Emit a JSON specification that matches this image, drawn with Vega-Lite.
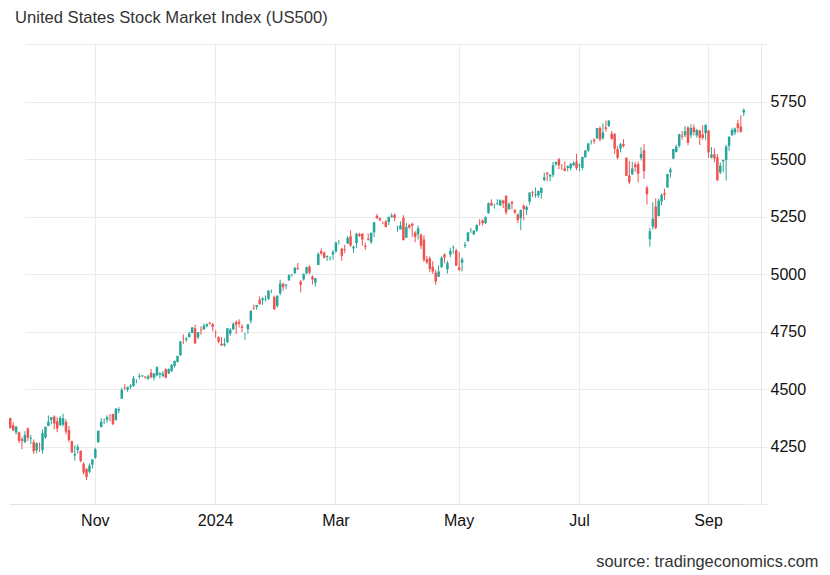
{
  "$schema": "https://vega.github.io/schema/vega-lite/v6.json",
  "autosize": "none",
  "width": 752,
  "height": 460,
  "padding": {"left": 9, "top": 44, "right": 69, "bottom": 71},
  "background": "white",
  "title": {"text": "United States Stock Market Index (US500)", "anchor": "start", "frame": "group", "dx": 6, "offset": 4, "baseline": "alphabetic", "font": "Liberation Sans", "fontSize": 16.6, "fontWeight": "normal", "color": "#333333"},
  "config": {"view": {"stroke": null}},
  "data": {"values": [
{"d":"2023-09-21","o":4374,"h":4375,"l":4329,"c":4330},
{"d":"2023-09-22","o":4342,"h":4357,"l":4316,"c":4320},
{"d":"2023-09-25","o":4311,"h":4338,"l":4302,"c":4337},
{"d":"2023-09-26","o":4312,"h":4314,"l":4265,"c":4274},
{"d":"2023-09-27","o":4282,"h":4292,"l":4238,"c":4275},
{"d":"2023-09-28","o":4269,"h":4317,"l":4265,"c":4300},
{"d":"2023-09-29","o":4328,"h":4333,"l":4274,"c":4288},
{"d":"2023-10-02","o":4284,"h":4300,"l":4260,"c":4288},
{"d":"2023-10-03","o":4269,"h":4281,"l":4217,"c":4229},
{"d":"2023-10-04","o":4233,"h":4268,"l":4220,"c":4264},
{"d":"2023-10-05","o":4259,"h":4268,"l":4226,"c":4258},
{"d":"2023-10-06","o":4234,"h":4324,"l":4219,"c":4308},
{"d":"2023-10-09","o":4289,"h":4336,"l":4284,"c":4336},
{"d":"2023-10-10","o":4339,"h":4385,"l":4339,"c":4358},
{"d":"2023-10-11","o":4366,"h":4378,"l":4346,"c":4377},
{"d":"2023-10-12","o":4380,"h":4386,"l":4325,"c":4350},
{"d":"2023-10-13","o":4360,"h":4377,"l":4312,"c":4328},
{"d":"2023-10-16","o":4342,"h":4383,"l":4342,"c":4374},
{"d":"2023-10-17","o":4345,"h":4393,"l":4337,"c":4373},
{"d":"2023-10-18","o":4357,"h":4368,"l":4303,"c":4315},
{"d":"2023-10-19","o":4321,"h":4339,"l":4269,"c":4278},
{"d":"2023-10-20","o":4273,"h":4276,"l":4223,"c":4224},
{"d":"2023-10-23","o":4211,"h":4255,"l":4189,"c":4217},
{"d":"2023-10-24","o":4235,"h":4259,"l":4219,"c":4248},
{"d":"2023-10-25","o":4232,"h":4232,"l":4181,"c":4187},
{"d":"2023-10-26","o":4175,"h":4183,"l":4128,"c":4137},
{"d":"2023-10-27","o":4152,"h":4157,"l":4104,"c":4117},
{"d":"2023-10-30","o":4140,"h":4177,"l":4133,"c":4167},
{"d":"2023-10-31","o":4171,"h":4194,"l":4154,"c":4194},
{"d":"2023-11-01","o":4201,"h":4245,"l":4197,"c":4238},
{"d":"2023-11-02","o":4268,"h":4320,"l":4268,"c":4318},
{"d":"2023-11-03","o":4334,"h":4374,"l":4334,"c":4358},
{"d":"2023-11-06","o":4365,"h":4372,"l":4348,"c":4366},
{"d":"2023-11-07","o":4366,"h":4386,"l":4353,"c":4378},
{"d":"2023-11-08","o":4384,"h":4391,"l":4360,"c":4383},
{"d":"2023-11-09","o":4391,"h":4393,"l":4343,"c":4347},
{"d":"2023-11-10","o":4365,"h":4416,"l":4362,"c":4415},
{"d":"2023-11-13","o":4406,"h":4421,"l":4394,"c":4412},
{"d":"2023-11-14","o":4458,"h":4505,"l":4458,"c":4496},
{"d":"2023-11-15","o":4505,"h":4521,"l":4495,"c":4503},
{"d":"2023-11-16","o":4497,"h":4511,"l":4488,"c":4508},
{"d":"2023-11-17","o":4509,"h":4521,"l":4500,"c":4514},
{"d":"2023-11-20","o":4512,"h":4557,"l":4511,"c":4547},
{"d":"2023-11-21","o":4538,"h":4542,"l":4525,"c":4538},
{"d":"2023-11-22","o":4553,"h":4568,"l":4545,"c":4557},
{"d":"2023-11-24","o":4555,"h":4560,"l":4552,"c":4559},
{"d":"2023-11-27","o":4554,"h":4555,"l":4545,"c":4550},
{"d":"2023-11-28","o":4545,"h":4562,"l":4540,"c":4555},
{"d":"2023-11-29","o":4571,"h":4587,"l":4547,"c":4551},
{"d":"2023-11-30","o":4549,"h":4569,"l":4537,"c":4568},
{"d":"2023-12-01","o":4559,"h":4599,"l":4554,"c":4595},
{"d":"2023-12-04","o":4564,"h":4572,"l":4546,"c":4570},
{"d":"2023-12-05","o":4557,"h":4578,"l":4551,"c":4567},
{"d":"2023-12-06","o":4586,"h":4590,"l":4546,"c":4549},
{"d":"2023-12-07","o":4568,"h":4590,"l":4565,"c":4586},
{"d":"2023-12-08","o":4577,"h":4609,"l":4575,"c":4604},
{"d":"2023-12-11","o":4600,"h":4624,"l":4593,"c":4622},
{"d":"2023-12-12","o":4618,"h":4644,"l":4615,"c":4644},
{"d":"2023-12-13","o":4647,"h":4709,"l":4643,"c":4707},
{"d":"2023-12-14","o":4721,"h":4738,"l":4695,"c":4720},
{"d":"2023-12-15","o":4714,"h":4726,"l":4705,"c":4719},
{"d":"2023-12-18","o":4725,"h":4749,"l":4725,"c":4741},
{"d":"2023-12-19","o":4743,"h":4769,"l":4743,"c":4768},
{"d":"2023-12-20","o":4764,"h":4779,"l":4697,"c":4698},
{"d":"2023-12-21","o":4725,"h":4748,"l":4717,"c":4747},
{"d":"2023-12-22","o":4758,"h":4772,"l":4736,"c":4755},
{"d":"2023-12-26","o":4759,"h":4785,"l":4758,"c":4775},
{"d":"2023-12-27","o":4773,"h":4785,"l":4768,"c":4782},
{"d":"2023-12-28","o":4786,"h":4793,"l":4780,"c":4783},
{"d":"2023-12-29","o":4782,"h":4788,"l":4751,"c":4770},
{"d":"2024-01-02","o":4745,"h":4755,"l":4723,"c":4743},
{"d":"2024-01-03","o":4725,"h":4729,"l":4699,"c":4705},
{"d":"2024-01-04","o":4697,"h":4726,"l":4687,"c":4689},
{"d":"2024-01-05","o":4690,"h":4721,"l":4683,"c":4697},
{"d":"2024-01-08","o":4703,"h":4764,"l":4699,"c":4764},
{"d":"2024-01-09","o":4741,"h":4766,"l":4731,"c":4757},
{"d":"2024-01-10","o":4759,"h":4790,"l":4757,"c":4783},
{"d":"2024-01-11","o":4792,"h":4798,"l":4739,"c":4780},
{"d":"2024-01-12","o":4792,"h":4803,"l":4768,"c":4784},
{"d":"2024-01-16","o":4772,"h":4782,"l":4747,"c":4766},
{"d":"2024-01-17","o":4739,"h":4745,"l":4714,"c":4739},
{"d":"2024-01-18","o":4760,"h":4782,"l":4740,"c":4781},
{"d":"2024-01-19","o":4797,"h":4842,"l":4785,"c":4840},
{"d":"2024-01-22","o":4853,"h":4868,"l":4845,"c":4850},
{"d":"2024-01-23","o":4856,"h":4866,"l":4844,"c":4865},
{"d":"2024-01-24","o":4888,"h":4903,"l":4866,"c":4869},
{"d":"2024-01-25","o":4886,"h":4899,"l":4866,"c":4894},
{"d":"2024-01-26","o":4889,"h":4907,"l":4881,"c":4891},
{"d":"2024-01-29","o":4892,"h":4929,"l":4887,"c":4928},
{"d":"2024-01-30","o":4925,"h":4932,"l":4917,"c":4925},
{"d":"2024-01-31","o":4900,"h":4906,"l":4845,"c":4846},
{"d":"2024-02-01","o":4862,"h":4906,"l":4853,"c":4906},
{"d":"2024-02-02","o":4916,"h":4975,"l":4907,"c":4959},
{"d":"2024-02-05","o":4957,"h":4963,"l":4927,"c":4943},
{"d":"2024-02-06","o":4950,"h":4957,"l":4934,"c":4954},
{"d":"2024-02-07","o":4973,"h":4999,"l":4970,"c":4995},
{"d":"2024-02-08","o":4996,"h":5000,"l":4988,"c":4998},
{"d":"2024-02-09","o":5004,"h":5030,"l":5000,"c":5027},
{"d":"2024-02-12","o":5026,"h":5048,"l":5016,"c":5022},
{"d":"2024-02-13","o":4967,"h":4975,"l":4920,"c":4953},
{"d":"2024-02-14","o":4977,"h":5002,"l":4971,"c":5001},
{"d":"2024-02-15","o":5003,"h":5032,"l":4999,"c":5030},
{"d":"2024-02-16","o":5032,"h":5038,"l":4999,"c":5006},
{"d":"2024-02-20","o":4989,"h":4994,"l":4955,"c":4976},
{"d":"2024-02-21","o":4963,"h":4983,"l":4946,"c":4982},
{"d":"2024-02-22","o":5039,"h":5094,"l":5039,"c":5087},
{"d":"2024-02-23","o":5100,"h":5111,"l":5081,"c":5089},
{"d":"2024-02-26","o":5093,"h":5097,"l":5068,"c":5070},
{"d":"2024-02-27","o":5074,"h":5081,"l":5057,"c":5078},
{"d":"2024-02-28","o":5068,"h":5077,"l":5058,"c":5070},
{"d":"2024-02-29","o":5085,"h":5104,"l":5062,"c":5096},
{"d":"2024-03-01","o":5098,"h":5140,"l":5094,"c":5137},
{"d":"2024-03-04","o":5131,"h":5149,"l":5128,"c":5131},
{"d":"2024-03-05","o":5110,"h":5114,"l":5057,"c":5079},
{"d":"2024-03-06","o":5108,"h":5127,"l":5091,"c":5105},
{"d":"2024-03-07","o":5132,"h":5165,"l":5132,"c":5157},
{"d":"2024-03-08","o":5164,"h":5190,"l":5118,"c":5124},
{"d":"2024-03-11","o":5111,"h":5125,"l":5092,"c":5118},
{"d":"2024-03-12","o":5134,"h":5179,"l":5114,"c":5175},
{"d":"2024-03-13","o":5174,"h":5179,"l":5162,"c":5165},
{"d":"2024-03-14","o":5176,"h":5176,"l":5123,"c":5150},
{"d":"2024-03-15","o":5123,"h":5136,"l":5104,"c":5117},
{"d":"2024-03-18","o":5154,"h":5176,"l":5145,"c":5149},
{"d":"2024-03-19","o":5139,"h":5181,"l":5131,"c":5179},
{"d":"2024-03-20","o":5181,"h":5225,"l":5161,"c":5225},
{"d":"2024-03-21","o":5253,"h":5261,"l":5240,"c":5242},
{"d":"2024-03-22","o":5242,"h":5246,"l":5229,"c":5234},
{"d":"2024-03-25","o":5219,"h":5229,"l":5216,"c":5218},
{"d":"2024-03-26","o":5228,"h":5236,"l":5203,"c":5204},
{"d":"2024-03-27","o":5226,"h":5249,"l":5213,"c":5248},
{"d":"2024-03-28","o":5248,"h":5264,"l":5245,"c":5254},
{"d":"2024-04-01","o":5257,"h":5263,"l":5230,"c":5244},
{"d":"2024-04-02","o":5204,"h":5209,"l":5184,"c":5206},
{"d":"2024-04-03","o":5194,"h":5229,"l":5194,"c":5211},
{"d":"2024-04-04","o":5244,"h":5256,"l":5146,"c":5147},
{"d":"2024-04-05","o":5158,"h":5222,"l":5157,"c":5204},
{"d":"2024-04-08","o":5212,"h":5219,"l":5197,"c":5202},
{"d":"2024-04-09","o":5218,"h":5224,"l":5160,"c":5210},
{"d":"2024-04-10","o":5180,"h":5186,"l":5138,"c":5161},
{"d":"2024-04-11","o":5172,"h":5211,"l":5150,"c":5199},
{"d":"2024-04-12","o":5171,"h":5176,"l":5108,"c":5123},
{"d":"2024-04-15","o":5150,"h":5168,"l":5052,"c":5062},
{"d":"2024-04-16","o":5064,"h":5079,"l":5043,"c":5051},
{"d":"2024-04-17","o":5068,"h":5077,"l":5007,"c":5022},
{"d":"2024-04-18","o":5031,"h":5056,"l":5001,"c":5011},
{"d":"2024-04-19","o":5006,"h":5019,"l":4953,"c":4967},
{"d":"2024-04-22","o":4988,"h":5038,"l":4987,"c":5011},
{"d":"2024-04-23","o":5029,"h":5077,"l":5028,"c":5071},
{"d":"2024-04-24","o":5085,"h":5089,"l":5047,"c":5072},
{"d":"2024-04-25","o":5020,"h":5057,"l":5002,"c":5048},
{"d":"2024-04-26","o":5084,"h":5114,"l":5073,"c":5100},
{"d":"2024-04-29","o":5114,"h":5124,"l":5089,"c":5116},
{"d":"2024-04-30","o":5103,"h":5110,"l":5035,"c":5036},
{"d":"2024-05-01","o":5029,"h":5096,"l":5013,"c":5018},
{"d":"2024-05-02","o":5049,"h":5073,"l":5011,"c":5064},
{"d":"2024-05-03","o":5122,"h":5140,"l":5113,"c":5128},
{"d":"2024-05-06","o":5142,"h":5181,"l":5142,"c":5181},
{"d":"2024-05-07","o":5187,"h":5200,"l":5178,"c":5188},
{"d":"2024-05-08","o":5172,"h":5191,"l":5170,"c":5188},
{"d":"2024-05-09","o":5189,"h":5214,"l":5183,"c":5214},
{"d":"2024-05-10","o":5225,"h":5239,"l":5210,"c":5223},
{"d":"2024-05-13","o":5233,"h":5237,"l":5211,"c":5221},
{"d":"2024-05-14","o":5221,"h":5250,"l":5218,"c":5247},
{"d":"2024-05-15","o":5264,"h":5311,"l":5263,"c":5308},
{"d":"2024-05-16","o":5310,"h":5325,"l":5296,"c":5297},
{"d":"2024-05-17","o":5303,"h":5305,"l":5284,"c":5303},
{"d":"2024-05-20","o":5305,"h":5325,"l":5298,"c":5308},
{"d":"2024-05-21","o":5298,"h":5325,"l":5297,"c":5321},
{"d":"2024-05-22","o":5319,"h":5323,"l":5287,"c":5307},
{"d":"2024-05-23","o":5340,"h":5342,"l":5257,"c":5268},
{"d":"2024-05-24","o":5282,"h":5311,"l":5279,"c":5305},
{"d":"2024-05-28","o":5315,"h":5315,"l":5280,"c":5306},
{"d":"2024-05-29","o":5278,"h":5282,"l":5262,"c":5267},
{"d":"2024-05-30","o":5259,"h":5264,"l":5222,"c":5235},
{"d":"2024-05-31","o":5243,"h":5281,"l":5191,"c":5278},
{"d":"2024-06-03","o":5297,"h":5302,"l":5234,"c":5283},
{"d":"2024-06-04","o":5278,"h":5298,"l":5257,"c":5291},
{"d":"2024-06-05","o":5314,"h":5355,"l":5302,"c":5354},
{"d":"2024-06-06","o":5357,"h":5362,"l":5335,"c":5353},
{"d":"2024-06-07","o":5343,"h":5376,"l":5331,"c":5347},
{"d":"2024-06-10","o":5341,"h":5362,"l":5331,"c":5361},
{"d":"2024-06-11","o":5353,"h":5376,"l":5327,"c":5375},
{"d":"2024-06-12","o":5409,"h":5441,"l":5403,"c":5421},
{"d":"2024-06-13","o":5441,"h":5441,"l":5403,"c":5434},
{"d":"2024-06-14","o":5424,"h":5433,"l":5403,"c":5432},
{"d":"2024-06-17","o":5431,"h":5488,"l":5421,"c":5473},
{"d":"2024-06-18","o":5477,"h":5490,"l":5471,"c":5487},
{"d":"2024-06-20","o":5499,"h":5505,"l":5455,"c":5473},
{"d":"2024-06-21","o":5466,"h":5478,"l":5452,"c":5465},
{"d":"2024-06-24","o":5459,"h":5490,"l":5447,"c":5448},
{"d":"2024-06-25","o":5461,"h":5472,"l":5446,"c":5469},
{"d":"2024-06-26","o":5460,"h":5483,"l":5451,"c":5478},
{"d":"2024-06-27","o":5473,"h":5490,"l":5469,"c":5483},
{"d":"2024-06-28","o":5488,"h":5523,"l":5451,"c":5460},
{"d":"2024-07-01","o":5471,"h":5480,"l":5446,"c":5475},
{"d":"2024-07-02","o":5461,"h":5510,"l":5452,"c":5509},
{"d":"2024-07-03","o":5507,"h":5539,"l":5507,"c":5537},
{"d":"2024-07-05","o":5537,"h":5571,"l":5530,"c":5567},
{"d":"2024-07-08","o":5572,"h":5584,"l":5563,"c":5573},
{"d":"2024-07-09","o":5584,"h":5590,"l":5566,"c":5577},
{"d":"2024-07-10","o":5591,"h":5635,"l":5586,"c":5634},
{"d":"2024-07-11","o":5635,"h":5642,"l":5576,"c":5585},
{"d":"2024-07-12","o":5590,"h":5655,"l":5584,"c":5615},
{"d":"2024-07-15","o":5638,"h":5667,"l":5619,"c":5631},
{"d":"2024-07-16","o":5644,"h":5669,"l":5639,"c":5667},
{"d":"2024-07-17","o":5610,"h":5622,"l":5584,"c":5588},
{"d":"2024-07-18","o":5608,"h":5614,"l":5522,"c":5545},
{"d":"2024-07-19","o":5543,"h":5557,"l":5498,"c":5505},
{"d":"2024-07-22","o":5545,"h":5570,"l":5529,"c":5564},
{"d":"2024-07-23","o":5565,"h":5586,"l":5550,"c":5556},
{"d":"2024-07-24","o":5505,"h":5508,"l":5426,"c":5427},
{"d":"2024-07-25","o":5428,"h":5491,"l":5390,"c":5399},
{"d":"2024-07-26","o":5434,"h":5488,"l":5430,"c":5459},
{"d":"2024-07-29","o":5476,"h":5487,"l":5444,"c":5464},
{"d":"2024-07-30","o":5478,"h":5489,"l":5398,"c":5436},
{"d":"2024-07-31","o":5505,"h":5551,"l":5494,"c":5522},
{"d":"2024-08-01","o":5538,"h":5566,"l":5413,"c":5447},
{"d":"2024-08-02","o":5376,"h":5383,"l":5302,"c":5347},
{"d":"2024-08-05","o":5151,"h":5200,"l":5119,"c":5186},
{"d":"2024-08-06","o":5206,"h":5312,"l":5193,"c":5240},
{"d":"2024-08-07","o":5293,"h":5330,"l":5195,"c":5200},
{"d":"2024-08-08","o":5252,"h":5328,"l":5250,"c":5319},
{"d":"2024-08-09","o":5315,"h":5350,"l":5298,"c":5344},
{"d":"2024-08-12","o":5352,"h":5371,"l":5322,"c":5344},
{"d":"2024-08-13","o":5376,"h":5436,"l":5376,"c":5434},
{"d":"2024-08-14","o":5442,"h":5463,"l":5419,"c":5455},
{"d":"2024-08-15","o":5502,"h":5544,"l":5499,"c":5543},
{"d":"2024-08-16","o":5531,"h":5562,"l":5528,"c":5554},
{"d":"2024-08-19","o":5557,"h":5608,"l":5550,"c":5608},
{"d":"2024-08-20","o":5602,"h":5621,"l":5584,"c":5597},
{"d":"2024-08-21","o":5603,"h":5643,"l":5595,"c":5621},
{"d":"2024-08-22","o":5637,"h":5643,"l":5560,"c":5571},
{"d":"2024-08-23","o":5603,"h":5651,"l":5591,"c":5635},
{"d":"2024-08-26","o":5637,"h":5651,"l":5602,"c":5617},
{"d":"2024-08-27","o":5602,"h":5631,"l":5593,"c":5626},
{"d":"2024-08-28","o":5624,"h":5627,"l":5561,"c":5592},
{"d":"2024-08-29","o":5607,"h":5646,"l":5583,"c":5592},
{"d":"2024-08-30","o":5612,"h":5651,"l":5582,"c":5648},
{"d":"2024-09-03","o":5624,"h":5626,"l":5504,"c":5529},
{"d":"2024-09-04","o":5506,"h":5552,"l":5503,"c":5520},
{"d":"2024-09-05","o":5520,"h":5546,"l":5486,"c":5503},
{"d":"2024-09-06","o":5507,"h":5522,"l":5403,"c":5408},
{"d":"2024-09-09","o":5442,"h":5484,"l":5434,"c":5471},
{"d":"2024-09-10","o":5490,"h":5497,"l":5442,"c":5496},
{"d":"2024-09-11","o":5496,"h":5561,"l":5406,"c":5554},
{"d":"2024-09-12","o":5557,"h":5600,"l":5535,"c":5596},
{"d":"2024-09-13","o":5603,"h":5636,"l":5601,"c":5626},
{"d":"2024-09-16","o":5615,"h":5637,"l":5604,"c":5633},
{"d":"2024-09-17","o":5655,"h":5670,"l":5615,"c":5635},
{"d":"2024-09-18","o":5641,"h":5690,"l":5615,"c":5618},
{"d":"2024-09-19","o":5702,"h":5720,"l":5686,"c":5713}
  ]},
  "encoding": {
    "x": {
      "field": "d", "type": "ordinal", "sort": "ascending",
      "scale": {"type": "band", "range": [0, 736], "paddingInner": 0.15, "paddingOuter": 0},
      "axis": {
        "orient": "bottom",
        "values": ["2023-11-01", "2024-01-02", "2024-03-01", "2024-05-01", "2024-07-01", "2024-09-03"],
        "labelExpr": "datum.value == '2023-11-01' ? 'Nov' : datum.value == '2024-01-02' ? '2024' : datum.value == '2024-03-01' ? 'Mar' : datum.value == '2024-05-01' ? 'May' : datum.value == '2024-07-01' ? 'Jul' : 'Sep'",
        "bandPosition": 0.5,
        "grid": true, "gridColor": "#ebebeb", "gridWidth": 1,
        "ticks": false, "domain": true, "domainColor": "#e3e3e3",
        "labelAngle": 0, "labelFont": "Liberation Sans", "labelFontSize": 16, "labelColor": "#111111", "labelPadding": 8,
        "title": "source: tradingeconomics.com",
        "titleFont": "Liberation Sans", "titleFontSize": 16.4, "titleFontWeight": "normal", "titleColor": "#333333",
        "titleAnchor": "end", "titleAlign": "right", "titleBaseline": "alphabetic", "titleX": 809, "titleY": 62
      }
    },
    "color": {"condition": {"test": "datum.c >= datum.o", "value": "#26a69a"}, "value": "#ef5350"}
  },
  "layer": [
    {
      "mark": {"type": "rule", "strokeWidth": 1},
      "encoding": {
        "y": {
          "field": "l", "type": "quantitative",
          "scale": {"domain": [4000, 6000], "nice": false, "zero": false},
          "axis": {
            "orient": "right",
            "values": [4000, 4250, 4500, 4750, 5000, 5250, 5500, 5750, 6000],
            "labelExpr": "datum.value == 4000 || datum.value == 6000 ? '' : datum.value",
            "grid": true, "gridColor": "#ebebeb", "gridWidth": 1,
            "ticks": true, "tickColor": "#ebebeb", "tickSize": 6,
            "domain": true, "domainColor": "#e3e3e3",
            "labelFont": "Liberation Sans", "labelFontSize": 16, "labelColor": "#111111", "labelPadding": 3,
            "title": null
          }
        },
        "y2": {"field": "h"}
      }
    },
    {
      "mark": {"type": "bar"},
      "encoding": {
        "y": {"field": "o", "type": "quantitative"},
        "y2": {"field": "c"}
      }
    }
  ]
}
